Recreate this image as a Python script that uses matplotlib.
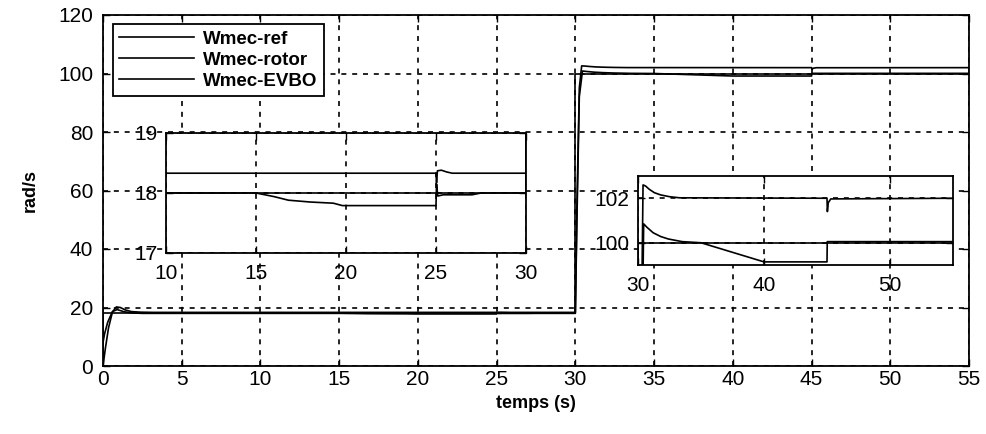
import matplotlib
matplotlib.use("Agg")
import matplotlib.pyplot as plt

plt.rcParams['font.family'] = ['Liberation Sans', 'DejaVu Sans']

# ---- data ----
time_ref = [0, 0, 30, 30, 55]
w_ref = [0, 18, 18, 100, 100]

time_rotor = [0, 0.15, 0.35, 0.6, 0.85, 1.1, 1.4, 1.8, 2.4, 3.2, 25.0, 25.03, 25.08, 25.3,
              25.6, 25.9, 30.0, 30.1, 30.25, 30.4, 30.6, 30.9, 31.3, 31.8, 32.5, 33.3,
              45.0, 45.03, 45.1, 45.3, 55]
w_rotor = [0, 6, 13, 18.5, 20.2, 20.0, 19.2, 18.6, 18.4, 18.33, 18.33, 18.17, 18.37, 18.38,
           18.35, 18.33, 18.33, 55, 95, 102.6, 102.55, 102.4, 102.25, 102.15, 102.07, 102.02,
           102.0, 101.4, 101.8, 101.97, 102.0]

time_evbo = [0, 0.1, 0.3, 0.6, 0.9, 1.3, 1.8, 2.5, 15.0, 16.0, 16.8, 18.0, 19.3, 19.8,
             25.0, 25.03, 25.1, 25.4, 27.0, 27.5, 30.0, 30.1, 30.25, 30.45, 30.7, 31.2,
             31.8, 32.4, 33.5, 35.0, 40.0, 45.0, 45.02, 55]
w_evbo = [8, 11, 15, 18.6, 19.3, 18.6, 18.15, 18.0, 18.0, 17.94, 17.88, 17.85, 17.83, 17.79,
          17.79, 18.15, 17.95, 17.97, 17.97, 18.0, 18.0, 50, 92, 100.85, 100.7, 100.45,
          100.28, 100.17, 100.05, 100.0, 99.14, 99.14, 100.05, 100.05]

labels = ["Wmec-ref", "Wmec-rotor", "Wmec-EVBO"]
main_xticks = list(range(0, 56, 5))
main_yticks = list(range(0, 121, 20))
inset1_xticks = [10, 15, 20, 25, 30]
inset1_yticks = [17, 18, 19]
inset2_xticks = [30, 40, 50]
inset2_yticks = [100, 102]

series = [(time_ref, w_ref), (time_rotor, w_rotor), (time_evbo, w_evbo)]

W, H = 987, 434
fig = plt.figure(figsize=(W / 100, H / 100), dpi=100)
fig.patch.set_facecolor('white')

grid_kw = dict(color='black', linestyle=(0, (3, 3.5)), linewidth=1.2)


def style_axes(ax, fs, xpad, ypad):
    for s in ax.spines.values():
        s.set_linewidth(1.3)
        s.set_color('black')
    ax.tick_params(direction='in', length=5, width=1.0, top=True, right=True,
                   labelsize=fs, colors='black')
    ax.tick_params(axis='x', pad=xpad)
    ax.tick_params(axis='y', pad=ypad)
    ax.grid(True, **grid_kw)
    ax.set_axisbelow(False)


def px(x0, y0, x1, y1):
    return [x0 / W, 1 - y1 / H, (x1 - x0) / W, (y1 - y0) / H]


ax = fig.add_axes(px(103, 15, 969, 366))
for (t, v), lab in zip(series, labels):
    ax.plot(t, v, color='black', linewidth=1.2, label=lab)
ax.set_xlim(0, 55)
ax.set_ylim(0, 120)
ax.set_xticks(main_xticks)
ax.set_yticks(main_yticks)
style_axes(ax, 15, 3, 7)
ax.set_xlabel("temps (s)", fontsize=13, fontweight='bold', labelpad=4)
ax.set_ylabel("rad/s", fontsize=13, fontweight='bold', labelpad=14)

leg = ax.legend(loc='upper left', bbox_to_anchor=(0.011, 0.974), borderaxespad=0,
                handlelength=4.0, handletextpad=0.5, labelspacing=0.2,
                borderpad=0.35, fancybox=False, framealpha=1, edgecolor='black',
                prop={'weight': 'bold', 'size': 13.5})
leg.get_frame().set_linewidth(1.3)
for h in leg.legend_handles:
    h.set_linewidth(1.2)

# inset 1
ax1 = fig.add_axes(px(166, 133, 526, 253))
for t, v in series:
    ax1.plot(t, v, color='black', linewidth=1.2)
ax1.set_xlim(10, 30)
ax1.set_ylim(17, 19)
ax1.set_xticks(inset1_xticks)
ax1.set_yticks(inset1_yticks)
ax1.set_facecolor('white')
style_axes(ax1, 15, 8, 6)

# inset 2
ax2 = fig.add_axes(px(638, 176, 953, 265))
for t, v in series:
    ax2.plot(t, v, color='black', linewidth=1.2)
ax2.set_xlim(30, 55)
ax2.set_ylim(99, 103)
ax2.set_xticks(inset2_xticks)
ax2.set_yticks(inset2_yticks)
ax2.set_facecolor('white')
style_axes(ax2, 15, 8, 6)

fig.savefig("out.png", dpi=100, facecolor='white')
